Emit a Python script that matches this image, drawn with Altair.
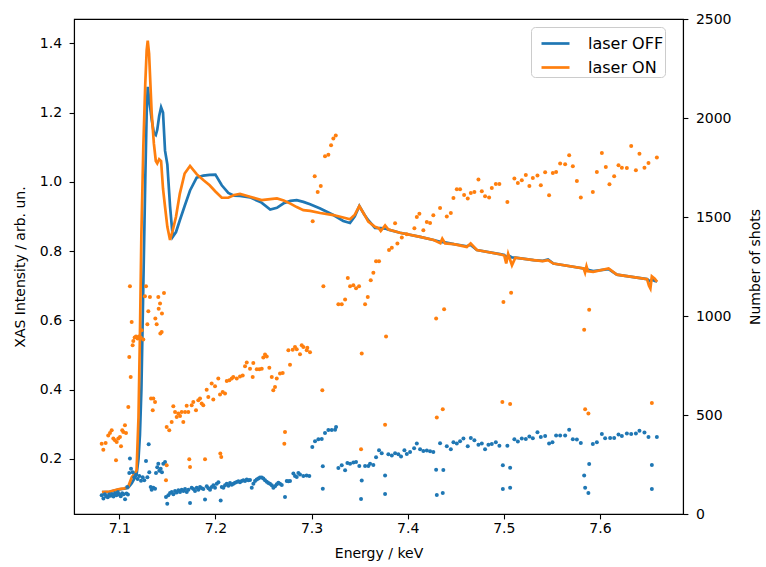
import altair as alt
import pandas as pd

# ---------------- XAS spectra (left axis) ----------------
E_line = [7.082, 7.09, 7.10, 7.105, 7.109, 7.113, 7.116, 7.118, 7.120, 7.1215,
          7.123, 7.125, 7.127, 7.1285, 7.1296, 7.131, 7.1337, 7.136, 7.138, 7.1395,
          7.1415, 7.1435, 7.1455, 7.1476, 7.150, 7.1528, 7.1556, 7.159, 7.163, 7.168,
          7.1736, 7.1805, 7.1874, 7.194, 7.200, 7.2066, 7.2134, 7.2195, 7.2256, 7.236,
          7.248, 7.257, 7.264, 7.271, 7.278, 7.2846, 7.2915, 7.2985, 7.309, 7.3227,
          7.333, 7.340, 7.345, 7.3497, 7.355, 7.359, 7.366, 7.370, 7.372, 7.3765,
          7.380, 7.392, 7.413, 7.427, 7.434, 7.436, 7.439, 7.448, 7.4615, 7.4655,
          7.472, 7.496, 7.5005, 7.5025, 7.5045, 7.5085, 7.512, 7.531, 7.5405, 7.546,
          7.5516, 7.583, 7.5845, 7.586, 7.5875, 7.593, 7.609, 7.6176, 7.635, 7.649,
          7.651, 7.6525, 7.654, 7.657, 7.6595]

xas_off = [0.104, 0.105, 0.112, 0.114, 0.116, 0.130, 0.145, 0.155, 0.200, 0.270,
           0.400, 0.700, 1.000, 1.200, 1.274, 1.240, 1.180, 1.140, 1.135, 1.150,
           1.190, 1.215, 1.200, 1.090, 1.050, 0.930, 0.841, 0.855, 0.889, 0.930,
           0.975, 1.012, 1.018, 1.020, 1.021, 0.990, 0.968, 0.960, 0.959, 0.955,
           0.940, 0.920, 0.925, 0.938, 0.945, 0.947, 0.942, 0.935, 0.923, 0.904,
           0.887, 0.881, 0.900, 0.930, 0.905, 0.889, 0.867, 0.866, 0.866, 0.865,
           0.862, 0.853, 0.841, 0.832, 0.827, 0.826, 0.825, 0.820, 0.814, 0.818,
           0.803, 0.791, 0.789, 0.780, 0.788, 0.782, 0.781, 0.774, 0.772, 0.776,
           0.764, 0.750, 0.746, 0.750, 0.746, 0.742, 0.748, 0.732, 0.725, 0.719,
           0.715, 0.712, 0.718, 0.714, 0.712]

xas_on = [0.104, 0.106, 0.113, 0.115, 0.118, 0.147, 0.158, 0.167, 0.321, 0.560,
          0.850, 1.100, 1.280, 1.380, 1.4075, 1.370, 1.198, 1.110, 1.060, 1.053,
          1.065, 1.060, 0.980, 0.928, 0.870, 0.832, 0.860, 0.899, 0.966, 1.024,
          1.046, 1.022, 1.005, 0.990, 0.972, 0.954, 0.954, 0.962, 0.965, 0.957,
          0.947, 0.950, 0.952, 0.946, 0.937, 0.927, 0.918, 0.916, 0.910, 0.904,
          0.897, 0.892, 0.905, 0.930, 0.905, 0.885, 0.870, 0.866, 0.858, 0.874,
          0.862, 0.853, 0.841, 0.832, 0.823, 0.836, 0.822, 0.820, 0.812, 0.822,
          0.803, 0.791, 0.787, 0.764, 0.792, 0.759, 0.781, 0.774, 0.771, 0.774,
          0.764, 0.750, 0.738, 0.756, 0.742, 0.740, 0.750, 0.732, 0.725, 0.719,
          0.700, 0.692, 0.727, 0.720, 0.711]

# ---------------- Number of shots (right axis) ----------------
E_shots_off = [7.0817, 7.0835, 7.085, 7.0865, 7.088, 7.0895, 7.091, 7.0925, 7.094, 7.0955,
               7.097, 7.0985, 7.100, 7.1015, 7.103, 7.1045, 7.106, 7.1075, 7.109,
               7.1083, 7.1104, 7.1122, 7.1111, 7.1139, 7.1156, 7.1174, 7.1191, 7.1208, 7.1226,
               7.1243, 7.1260, 7.1278, 7.1292, 7.1306, 7.1312, 7.1327, 7.1337, 7.1354, 7.1372,
               7.1382, 7.1395, 7.1406, 7.1416, 7.1431, 7.1444, 7.1458, 7.1476, 7.1486, 7.1499,
               7.1510, 7.1528, 7.1546, 7.1563, 7.1580, 7.1597, 7.1615, 7.1632, 7.1650, 7.1667,
               7.1684, 7.1702, 7.1719, 7.1736, 7.1753, 7.1771, 7.1788, 7.1806, 7.1823, 7.1840,
               7.1858, 7.1875, 7.1892, 7.1910, 7.1927, 7.1944, 7.1962, 7.1979, 7.1996, 7.2014,
               7.2031, 7.2055, 7.2066, 7.2083, 7.2100, 7.2118, 7.2135, 7.2152, 7.2170, 7.2187,
               7.2204, 7.2222, 7.2239, 7.2256, 7.2274, 7.2291, 7.2308, 7.2326, 7.2343, 7.2360,
               7.2378, 7.2395, 7.2412, 7.2430, 7.2447, 7.2464, 7.2482, 7.2499, 7.2516, 7.2534,
               7.2551, 7.2568, 7.2586, 7.2603, 7.2620, 7.2638, 7.2655, 7.2672, 7.2690, 7.2724,
               7.2742, 7.2759, 7.2776, 7.2811, 7.2828, 7.2846, 7.2863, 7.2880, 7.2915, 7.2949,
               7.2977,
               7.3008, 7.3036, 7.3071, 7.3106, 7.3117, 7.3117, 7.3140, 7.3175, 7.3210, 7.3245,
               7.3255, 7.3279, 7.3314, 7.3349, 7.3373, 7.3401, 7.3435, 7.3463, 7.3497, 7.3522,
               7.3515, 7.3557, 7.3591, 7.3609, 7.3643, 7.3671, 7.3702, 7.3730, 7.3765, 7.3765,
               7.3799, 7.3835, 7.3869, 7.3903, 7.3931, 7.3966, 7.3991, 7.4025, 7.4067, 7.4095,
               7.4129, 7.4163, 7.4199, 7.4233, 7.4267, 7.4296, 7.4303, 7.4337, 7.4371, 7.4365,
               7.4407, 7.4449, 7.4476, 7.4511, 7.4545, 7.4580, 7.4625, 7.4657, 7.4694, 7.4736,
               7.4771, 7.4805, 7.4840, 7.4875, 7.4917, 7.4954, 7.4990, 7.4990, 7.5037, 7.5066,
               7.5066, 7.5110, 7.5146, 7.5187, 7.5229, 7.5266, 7.5302, 7.5350, 7.5385, 7.5430,
               7.5471, 7.5506, 7.5544, 7.5586, 7.5638, 7.5680, 7.5718, 7.5760, 7.5801, 7.5836,
               7.5846, 7.5880, 7.5888, 7.5926, 7.5968, 7.6020, 7.6054, 7.6106, 7.6148, 7.6193,
               7.6228, 7.6280, 7.6325, 7.6374, 7.6411, 7.6463, 7.6505, 7.6540, 7.6540, 7.6592]

shots_off = [95, 78, 100, 90, 85, 98, 92, 100, 88, 104,
             95, 110, 98, 90, 105, 100, 75, 103, 98,
             136, 207, 229, 280, 211, 185, 198, 177, 192, 168,
             185, 171, 268, 185, 352, 211, 136, 123, 133, 128,
             207, 236, 254, 219, 228, 211, 254, 262, 86, 52,
             95, 106, 111, 100, 116, 108, 120, 111, 123, 116,
             126, 111, 123, 56, 133, 126, 116, 133, 123, 136,
             130, 126, 73, 140, 130, 123, 136, 145, 133, 153,
             160, 68, 136, 133, 145, 153, 143, 157, 148, 153,
             158, 162, 165, 160, 167, 170, 167, 174, 170, 172,
             133, 153, 167, 174, 179, 184, 184, 179, 170, 163,
             157, 153, 145, 133, 140, 150, 158, 153, 146, 86,
             167, 165, 167, 204, 192, 187, 207, 200, 192, 195,
             192,
             338, 367, 377, 379, 241, 128, 409, 424, 424, 426,
             439, 232, 246, 221, 258, 254, 260, 263, 242, 169,
             76, 242, 242, 254, 248, 286, 322, 307, 194, 101,
             302, 296, 307, 302, 291, 322, 303, 313, 332, 356,
             327, 318, 321, 317, 313, 224, 96, 357, 222, 106,
             342, 327, 362, 356, 367, 381, 342, 384, 372, 350,
             356, 327, 350, 354, 362, 345, 246, 126, 345, 234,
             133, 377, 366, 381, 379, 391, 382, 413, 389, 394,
             356, 362, 397, 397, 396, 426, 377, 376, 359, 195,
             133, 106, 253, 354, 362, 404, 382, 384, 384, 401,
             394, 406, 404, 406, 421, 411, 389, 248, 126, 389]

E_shots_on = [7.0817, 7.0834, 7.0858, 7.0885, 7.0903, 7.0921, 7.0938, 7.0955, 7.0966, 7.0973,
              7.0990, 7.1007, 7.1018, 7.1031, 7.1042, 7.1059, 7.1070,
              7.1094, 7.1104, 7.1111, 7.1119, 7.1129, 7.1139, 7.1146, 7.1160, 7.1174, 7.1191,
              7.1205, 7.1223, 7.1233, 7.1250, 7.1267, 7.1278, 7.1292, 7.1302, 7.1319, 7.1330,
              7.1348, 7.1354, 7.1372, 7.1375, 7.1389, 7.1406, 7.1410, 7.1424, 7.1427, 7.1441,
              7.1444, 7.1465, 7.1486, 7.1493,
              7.1493, 7.1520, 7.1545, 7.1562, 7.1580, 7.1597, 7.1614, 7.1632, 7.1649, 7.1666,
              7.1684, 7.1701, 7.1718, 7.1728, 7.1736, 7.1753, 7.1770, 7.1798, 7.1822, 7.1840,
              7.1857, 7.1874, 7.1892, 7.1909, 7.1926, 7.1961, 7.1978, 7.1996, 7.2030, 7.2048,
              7.2051, 7.2061, 7.2076, 7.2100, 7.2118, 7.2145, 7.2170, 7.2186, 7.2222, 7.2256,
              7.2284, 7.2308, 7.2326, 7.2360, 7.2388, 7.2394, 7.2430, 7.2457, 7.2482, 7.2498,
              7.2516, 7.2534, 7.2561, 7.2586, 7.2602, 7.2620, 7.2638, 7.2672, 7.2700, 7.2717,
              7.2724, 7.2759, 7.2776, 7.2804, 7.2828, 7.2846, 7.2880, 7.2898, 7.2915, 7.2950,
              7.2956, 7.2984,
              7.3012, 7.3112, 7.3033, 7.3064, 7.3096, 7.3123, 7.3140, 7.3175, 7.3203, 7.3227,
              7.3252, 7.3279, 7.3314, 7.3349, 7.3377, 7.3401, 7.3435, 7.3463, 7.3494, 7.3515,
              7.3522, 7.3557, 7.3585, 7.3616, 7.3643, 7.3671, 7.3702, 7.3765, 7.3775, 7.3806,
              7.3835, 7.3869, 7.3893, 7.3939, 7.3991, 7.4070, 7.4095, 7.4122, 7.4163, 7.4199,
              7.4233, 7.4267, 7.4296, 7.4303, 7.4337, 7.4365, 7.4379, 7.4407, 7.4449, 7.4476,
              7.4511, 7.4545, 7.4587, 7.4625, 7.4657, 7.4694, 7.4736, 7.4771, 7.4805, 7.4847,
              7.4875, 7.4917, 7.4954, 7.4985, 7.4996, 7.5037, 7.5066, 7.5076, 7.5110, 7.5146,
              7.5187, 7.5229, 7.5266, 7.5302, 7.5350, 7.5385, 7.5430, 7.5471, 7.5510, 7.5544,
              7.5586, 7.5638, 7.5680, 7.5718, 7.5760, 7.5801, 7.5836, 7.5846, 7.5880, 7.5888,
              7.5926, 7.5968, 7.6020, 7.6061, 7.6099, 7.6148, 7.6193, 7.6228, 7.6280, 7.6325,
              7.6374, 7.6411, 7.6463, 7.6505, 7.6540, 7.6592]

shots_on = [355, 325, 359, 397, 409, 423, 381, 372, 271, 364,
            381, 389, 342, 423, 414, 448, 409,
            540, 793, 1150, 692, 970, 852, 874, 891, 897, 886,
            897, 891, 928, 881, 1100, 1150, 958, 1024, 1096, 583,
            524, 583, 566, 987, 958, 1096, 1037, 1063, 911, 919,
            1012, 1116, 170, 246,
            440, 423, 465, 544, 515, 490, 507, 495, 515, 465,
            515, 547, 515, 276, 238, 549, 566, 524, 574, 583,
            558, 549, 276, 628, 591, 659, 578, 645, 684, 603,
            305, 288, 616, 608, 672, 675, 684, 692, 684, 695,
            700, 746, 765, 734, 692, 763, 731, 731, 734, 790,
            805, 796, 739, 692, 625, 641, 684, 709, 712, 355,
            414, 827, 754, 830, 843, 832, 807, 852, 843, 827,
            840, 817,
            1478, 625, 1706, 1626, 1657, 1150, 1807, 1815, 1862, 1896,
            1911, 1059, 1059, 1083, 1192, 1150, 1155, 1140, 1150, 327,
            810, 1059, 1096, 1180, 1219, 1276, 1276, 451, 897, 1333,
            1345, 1468, 1366, 1396, 1413, 1443, 1500, 1517, 1433, 1475,
            1470, 1509, 987, 487, 1545, 529, 1034, 1503, 1520, 1596,
            1640, 1640, 1611, 1594, 1621, 1626, 1690, 1630, 1605, 1598,
            1647, 1667, 1667, 566, 1071, 1576, 556, 1118, 1695, 1672,
            1685, 1712, 1657, 1697, 1709, 1660, 1726, 1610, 1722, 1727,
            1770, 1766, 1812, 1756, 1682, 1598, 931, 529, 507, 1032,
            1626, 1727, 1823, 1753, 1665, 1706, 1761, 1749, 1747, 1859,
            1736, 1820, 1749, 1773, 561, 1800]

series_names = ["laser OFF", "laser ON"]
series_colors = ["#1f77b4", "#ff7f0e"]
x_ticks = [7.1, 7.2, 7.3, 7.4, 7.5, 7.6]
left_ticks = [0.2, 0.4, 0.6, 0.8, 1.0, 1.2, 1.4]
right_ticks = [0, 500, 1000, 1500, 2000, 2500]

FONT = "DejaVu Sans"
FS = 14

lines_df = pd.DataFrame({
    "E": E_line + E_line,
    "xas": xas_off + xas_on,
    "series": [series_names[0]] * len(E_line) + [series_names[1]] * len(E_line),
})
off_df = pd.DataFrame({"E": E_shots_off, "n": shots_off})
on_df = pd.DataFrame({"E": E_shots_on, "n": shots_on})

x_enc = alt.X(
    "E:Q",
    scale=alt.Scale(domain=[7.0529, 7.6864], nice=False, zero=False),
    axis=alt.Axis(title="Energy / keV", values=x_ticks, format=".1f",
                  titleX=304.5, titleY=39, titleBaseline="middle", titleAlign="center"),
)

lines = alt.Chart(lines_df).mark_line(strokeWidth=2.7).encode(
    x=x_enc,
    y=alt.Y(
        "xas:Q",
        scale=alt.Scale(domain=[0.041, 1.470], nice=False, zero=False),
        axis=alt.Axis(title="XAS Intensity / arb. un.", orient="left", values=left_ticks,
                      format=".1f", titleAngle=270, titleX=-54, titleY=247.5,
                      titleAlign="center", titleBaseline="middle"),
    ),
    color=alt.Color(
        "series:N",
        scale=alt.Scale(domain=series_names, range=series_colors),
        legend=alt.Legend(
            title=None, orient="none", legendX=457, legendY=8,
            symbolType="stroke", symbolStrokeWidth=2.7, symbolSize=784,
            symbolOffset=8,
            labelFont=FONT, labelFontSize=16, labelColor="black", labelOffset=17,
            labelExpr="datum.label + '\u00a0\u00a0'",
            padding=1, rowPadding=0, strokeColor="#cccccc", fillColor="white",
            cornerRadius=4,
        ),
    ),
)

y_right = alt.Y(
    "n:Q",
    scale=alt.Scale(domain=[0, 2500], nice=False, zero=False),
    axis=alt.Axis(title="Number of shots", orient="right", values=right_ticks,
                  format="d", titleAngle=270, titleX=72, titleY=247.5,
                  titleAlign="center", titleBaseline="middle"),
)

pts_off = alt.Chart(off_df).mark_circle(size=16, opacity=1, color=series_colors[0]).encode(
    x=x_enc, y=y_right)
pts_on = alt.Chart(on_df).mark_circle(size=16, opacity=1, color=series_colors[1]).encode(
    x=x_enc, y=y_right)

chart = alt.layer(lines, alt.layer(pts_off, pts_on)).resolve_scale(
    y="independent"
).properties(
    width=609, height=495,
    autosize=alt.AutoSizeParams(type="none"),
    padding={"left": 74, "top": 19, "right": 83, "bottom": 53},
    background="white",
).configure_view(
    stroke="black", strokeWidth=1.1
).configure_axis(
    grid=False, domainColor="black", domainWidth=1.1, tickColor="black",
    tickWidth=1.1, tickSize=4.9, labelFont=FONT, labelFontSize=FS, labelColor="black",
    titleFont=FONT, titleFontSize=FS, titleFontWeight="normal", titleColor="black",
    labelPadding=7.5,
).configure_axisX(labelPadding=2.5)

chart.save("out.html", embed_options={"renderer": "svg", "actions": False})
